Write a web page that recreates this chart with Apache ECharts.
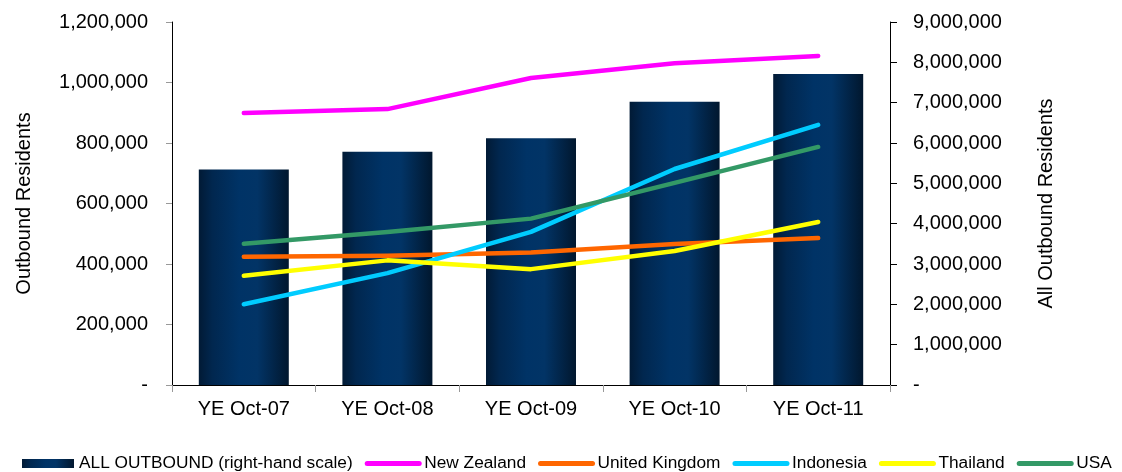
<!DOCTYPE html>
<html>
<head>
<meta charset="utf-8">
<script src="https://cdn.jsdelivr.net/npm/echarts@6/dist/echarts.min.js"></script>
<style>
  html, body { margin: 0; padding: 0; background: #fff; }
  #chart { width: 1122px; height: 472px; }
</style>
</head>
<body>
<div id="chart"></div>
<script>
// categories (year ending October)
var years = ['YE Oct-07', 'YE Oct-08', 'YE Oct-09', 'YE Oct-10', 'YE Oct-11'];

// all outbound residents, right-hand scale
var allOutbound = [5340000, 5780000, 6120000, 7020000, 7710000];

// outbound residents by destination, left-hand scale
var newZealand = [899000, 912000, 1015000, 1064000, 1088000];
var unitedKingdom = [424000, 427000, 438000, 466000, 486000];
var indonesia = [267000, 370000, 506000, 714000, 860000];
var thailand = [361000, 412000, 383000, 443000, 539000];
var usa = [467000, 506000, 550000, 668000, 787000];

var lineNames = ['New Zealand', 'United Kingdom', 'Indonesia', 'Thailand', 'USA'];

var FONT = 'Liberation Sans, Arial, sans-serif';

function fmt(v) {
    if (v == 0) return '-';   // excel style zero
    return v.toLocaleString('en-US');
}

function lineSeries(name, data, color) {
    return {
        name: name,
        type: 'line',
        yAxisIndex: 0,
        data: data,
        symbol: 'none',
        lineStyle: { color: color, width: 4.5, cap: 'round', join: 'round' },
        itemStyle: { color: color }
    };
}

// legend: bar keeps its rect, lines only show a thick stroke (hide the dot)
var legendData = [{ name: 'ALL OUTBOUND (right-hand scale)', icon: 'rect' }];
lineNames.forEach(function (n) {
    legendData.push({ name: n, itemStyle: { opacity: 0 }, lineStyle: { width: 5, cap: 'round' } });
});

var myChart = echarts.init(document.getElementById('chart'));
myChart.setOption({
    animation: false,
    textStyle: { fontFamily: FONT, color: '#000' },
    grid: { left: 172, right: 232, top: 22, bottom: 87 },
    legend: {
        left: 22,
        top: 455,
        width: 1100,
        itemWidth: 52,
        itemHeight: 9,
        itemGap: 12,
        padding: 0,
        textStyle: { fontFamily: FONT, fontSize: 17.3, color: '#000' },
        data: legendData
    },
    xAxis: {
        type: 'category',
        data: years,
        axisLine: { lineStyle: { color: '#000', width: 1 } },
        axisTick: { show: true, length: 7, lineStyle: { color: '#999' } },
        axisLabel: { fontSize: 20, color: '#000', margin: 14 }
    },
    yAxis: [
        {
            type: 'value',
            min: 0, max: 1200000, interval: 200000,
            name: 'Outbound Residents',
            nameLocation: 'middle',
            nameGap: 138,
            nameTextStyle: { fontSize: 20, color: '#000' },
            splitLine: { show: false },
            axisLine: { show: true, lineStyle: { color: '#000' } },
            axisTick: { show: true, length: 6, lineStyle: { color: '#999' } },
            axisLabel: { fontSize: 20, color: '#000', margin: 24, formatter: fmt }
        },
        {
            type: 'value',
            position: 'right',
            min: 0, max: 9000000, interval: 1000000,
            name: 'All Outbound Residents',
            nameLocation: 'middle',
            nameGap: 146,
            nameTextStyle: { fontSize: 20, color: '#000' },
            splitLine: { show: false },
            axisLine: { show: true, lineStyle: { color: '#000' } },
            axisTick: { show: true, length: 7, lineStyle: { color: '#000' } },
            axisLabel: { fontSize: 20, color: '#000', margin: 23, formatter: fmt }
        }
    ],
    series: [
        {
            name: 'ALL OUTBOUND (right-hand scale)',
            type: 'bar',
            yAxisIndex: 1,
            data: allOutbound,
            barWidth: 90,
            itemStyle: {
                color: new echarts.graphic.LinearGradient(0, 0, 1, 0, [
                    { offset: 0, color: '#011a35' },
                    { offset: 0.15, color: '#01274f' },
                    { offset: 0.45, color: '#003366' },
                    { offset: 0.65, color: '#023466' },
                    { offset: 1, color: '#01172e' }
                ])
            }
        },
        lineSeries('New Zealand', newZealand, '#FF00FF'),
        lineSeries('United Kingdom', unitedKingdom, '#FF6600'),
        lineSeries('Indonesia', indonesia, '#00CCFF'),
        lineSeries('Thailand', thailand, '#FFFF00'),
        lineSeries('USA', usa, '#339966')
    ]
});
</script>
</body>
</html>
